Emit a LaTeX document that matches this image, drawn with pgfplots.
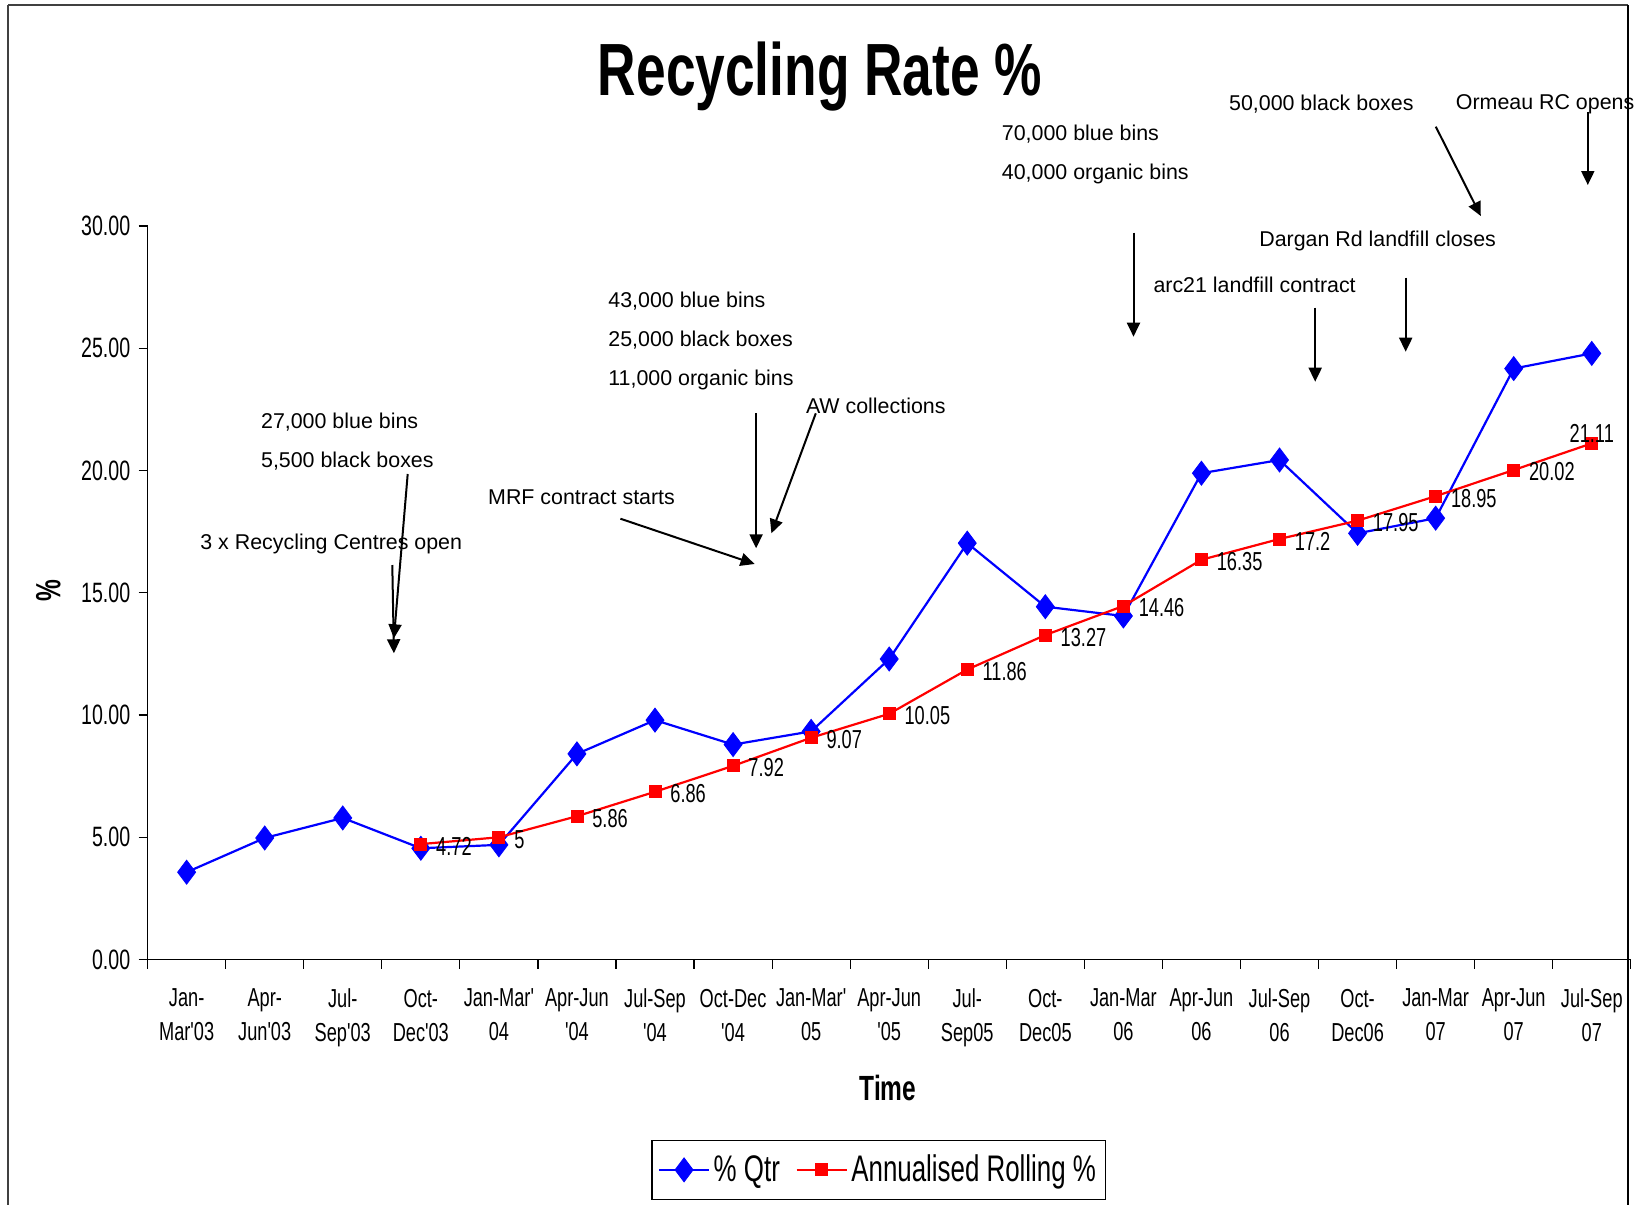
\documentclass[border=0pt]{standalone}
\usepackage{fontspec}
\usepackage{pgfplots}
\pgfplotsset{compat=1.18}
\usetikzlibrary{arrows.meta}
\newfontfamily\cf[FakeStretch=0.7]{Liberation Sans}
\newfontfamily\tf[FakeStretch=0.72]{Liberation Sans}
\newfontfamily\af{Liberation Sans}

\begin{document}
\begin{tikzpicture}
\useasboundingbox (0,0) rectangle (817.5pt,-602.5pt);
\begin{axis}[
    at={(73.8pt,-479.75pt)}, anchor=south west,
    width=741.6pt, height=366.75pt, scale only axis,
    xmin=-0.5, xmax=18.5, ymin=0, ymax=30,
    axis x line*=bottom, axis y line*=left,
    axis line style={line width=0.6pt},
    tick align=outside, major tick length=4.5pt,
    tick style={black, line width=0.6pt},
    clip=false,
    xtick={-0.5,0.5,...,18.5},
    x tick label as interval,
    xticklabels={{Jan-\\Mar'03},{Apr-\\Jun'03},{Jul-\\Sep'03},{Oct-\\Dec'03},
        {Jan-Mar'\\04},{Apr-Jun\\'04},{Jul-Sep\\'04},{Oct-Dec\\'04},
        {Jan-Mar'\\05},{Apr-Jun\\'05},{Jul-\\Sep05},{Oct-\\Dec05},
        {Jan-Mar\\06},{Apr-Jun\\06},{Jul-Sep\\06},{Oct-\\Dec06},
        {Jan-Mar\\07},{Apr-Jun\\07},{Jul-Sep\\07}},
    xticklabel style={align=center, anchor=north, inner sep=0pt,
        font=\cf\fontsize{13}{17}\selectfont, yshift=-10pt},
    ytick={0,5,...,30},
    yticklabels={0.00,5.00,10.00,15.00,20.00,25.00,30.00},
    yticklabel style={anchor=east, inner sep=0pt, xshift=-4pt,
        font=\cf\fontsize{14}{16}\selectfont},
    xlabel={Time},
    xlabel style={at={(axis description cs:0.4992,-0.1745)}, anchor=center,
        font=\cf\bfseries\fontsize{17.5}{20}\selectfont},
    ylabel={\%},
    ylabel style={at={(axis description cs:-0.067,0.5024)}, anchor=center,
        font=\cf\bfseries\fontsize{17.5}{20}\selectfont},
    legend columns=2,
    legend style={at={(0.4930,-0.2868)}, anchor=center, draw=black,
        line width=0.6pt, inner xsep=3pt, inner ysep=5.5pt,
        font=\cf\fontsize{18.5}{20}\selectfont,
        nodes={inner sep=1.8pt},
        /tikz/every even column/.append style={column sep=6pt}},
    legend image code/.code={\draw[mark repeat=2,mark phase=2,#1]
        plot coordinates {(0pt,0pt) (12.5pt,0pt) (25pt,0pt)};},
]
% % Qtr
\addplot[blue, line width=1.1pt, mark=diamond*, mark size=6pt,
    mark options={fill=blue, draw=blue, line width=0.4pt}] coordinates {
    (0,3.57) (1,4.97) (2,5.79) (3,4.55) (4,4.69) (5,8.41) (6,9.79)
    (7,8.79) (8,9.33) (9,12.29) (10,17.03) (11,14.43) (12,14.05)
    (13,19.89) (14,20.43) (15,17.43) (16,18.05) (17,24.17) (18,24.79)
};
\addlegendentry{\% Qtr}
% Annualised rolling
\addplot[red, line width=1.1pt, mark=square*, mark size=3pt,
    mark options={fill=red, draw=red, line width=0.4pt},
    point meta=explicit symbolic, nodes near coords,
    nodes near coords style={anchor=west, inner sep=0pt, xshift=7.5pt,
        yshift=-1pt, black, font=\cf\fontsize{13}{15}\selectfont}] coordinates {
    (3,4.72) [4.72] (4,5) [5] (5,5.86) [5.86] (6,6.86) [6.86]
    (7,7.92) [7.92] (8,9.07) [9.07] (9,10.05) [10.05] (10,11.86) [11.86]
    (11,13.27) [13.27] (12,14.46) [14.46] (13,16.35) [16.35] (14,17.2) [17.2]
    (15,17.95) [17.95] (16,18.95) [18.95] (17,20.02) [20.02] (18,21.11) []
};
\addlegendentry{Annualised Rolling \%}
\addplot[draw=none, forget plot, point meta=explicit symbolic, nodes near coords,
    nodes near coords style={anchor=south, inner sep=0pt, black,
        font=\cf\fontsize{13}{15}\selectfont}] coordinates {(18,21.11) [21.11]};
\end{axis}

\begin{scope}[x=0.5pt, y=-0.5pt,
    every node/.style={font=\af\fontsize{10.7}{12}\selectfont, anchor=west, inner sep=0pt},
    arr/.style={-{Triangle[width=6.5pt,length=7pt]}, line width=1pt}]
\draw[line width=1pt, black!75] (8.3,5) -- (1628,5);
\draw[line width=1pt, black!75] (8.3,5) -- (8.3,1215);
\draw[line width=0.6pt, black] (1628,5) -- (1628,1215);
\node[font=\tf\bfseries\fontsize{37}{40}\selectfont, anchor=base] at (820,95) {Recycling Rate \%};
\node at (260.7,422) {27,000 blue bins};
\node at (260.7,461) {5,500 black boxes};
\node at (200,543.5) {3 x Recycling Centres open};
\draw[arr] (407.7,474) -- (393.9,638.3);
\draw[arr] (392.3,565) -- (393.9,653.3);
\node at (608,301.5) {43,000 blue bins};
\node at (608,340.5) {25,000 black boxes};
\node at (608,379.5) {11,000 organic bins};
\node at (805.6,406) {AW collections};
\node at (487.8,497.3) {MRF contract starts};
\draw[arr] (620.4,518.7) -- (754.6,564);
\draw[arr] (756.1,413.3) -- (756.1,548.3);
\draw[arr] (815.8,413.3) -- (771.4,533.3);
\node at (1228.7,104.5) {50,000 black boxes};
\node at (1455.5,104.5) {Ormeau RC opens};
\node at (1001.5,134.5) {70,000 blue bins};
\node at (1001.5,173.5) {40,000 organic bins};
\node at (1258.9,241) {Dargan Rd landfill closes};
\node at (1153.1,285) {arc21 landfill contract};
\draw[arr] (1435.8,126.7) -- (1480.8,216);
\draw[arr] (1587.8,111.7) -- (1587.8,185);
\draw[arr] (1133.5,232.7) -- (1133.5,336.7);
\draw[arr] (1315.2,307.7) -- (1315.2,381.7);
\draw[arr] (1405.7,277.7) -- (1405.7,351.7);
\end{scope}
\end{tikzpicture}
\end{document}
